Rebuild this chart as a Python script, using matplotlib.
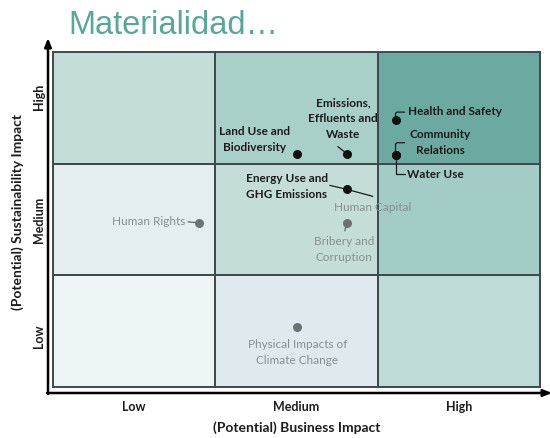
import numpy as np
import matplotlib.pyplot as plt
from matplotlib.colors import ListedColormap

plt.rcParams['font.family'] = ['Lato', 'DejaVu Sans']

levels = ["Low", "Medium", "High"]

# shade index per cell, rows = sustainability (low -> high), cols = business
shade = [[0, 1, 3],
         [2, 4, 6],
         [4, 5, 7]]
shade_colors = ['#eef5f6', '#dfeaee', '#e4eef0', '#bfdbd8',
                '#c4ddd9', '#a9cfc9', '#a3ccc6', '#6ba9a1']

# topics: business impact, sustainability impact (0-3 scale)
topics = ["Land Use and\nBiodiversity", "Emissions,\nEffluents and\nWaste",
          "Health and Safety", "Community\nRelations", "Water Use",
          "Energy Use and\nGHG Emissions", "Human Capital",
          "Bribery and\nCorruption", "Human Rights",
          "Physical Impacts of\nClimate Change"]
business = [1.50, 1.81, 2.11, 2.11, 2.11, 1.81, 1.81, 1.81, 0.90, 1.50]
sustain = [2.09, 2.09, 2.39, 2.08, 2.08, 1.77, 1.77, 1.47, 1.47, 0.54]
material = [True, True, True, True, True, True, False, False, False, False]

fig = plt.figure(figsize=(5.5, 4.38), dpi=100)
ax = fig.add_axes([53/550, 51/438, 487/550, 335/438])

ax.pcolormesh(np.arange(4), np.arange(4), np.array(shade),
              cmap=ListedColormap(shade_colors), vmin=-0.5, vmax=7.5,
              edgecolors='#3f4b4b', linewidth=1.2)
ax.set_xlim(0, 3)
ax.set_ylim(0, 3)
for s in ax.spines.values():
    s.set_color('#3f4b4b')
    s.set_linewidth(1.4)

dark = '#1c1c1c'
grey = '#87908f'

# label placement (offset pixels of text from dot), alignment
layout = [(-42, 14, 'center'), (-4, 35, 'center'), (12, 9, 'left'),
          (45, 12, 'center'), (11, -20, 'left'), (-60, 3, 'center'),
          (26, -18, 'center'), (-3, -27, 'center'), (-14, 1, 'right'),
          (1, -26, 'center')]

for i, name in enumerate(topics):
    col = dark if material[i] else grey
    dcol = '#111111' if material[i] else '#6b7272'
    if name != "Human Capital":
        ax.scatter(business[i], sustain[i], s=30, color=dcol,
                   zorder=5 if material[i] else 4)
    dx, dy, ha = layout[i]
    ax.annotate(name, (business[i], sustain[i]), xytext=(dx, dy),
                textcoords='offset pixels', ha=ha, va='center',
                fontsize=8.5, fontweight='bold' if material[i] else 'normal',
                color=col, linespacing=1.55, zorder=5)

# leader lines
def leader(i, dx, dy, style='arc3', color=dark):
    ax.annotate('', (business[i], sustain[i]), xytext=(dx, dy),
                textcoords='offset pixels',
                arrowprops=dict(arrowstyle='-', color=color, lw=0.9,
                                connectionstyle=style, shrinkA=0, shrinkB=0),
                zorder=3)

leader(1, -9, 7)
leader(2, 9, 8, 'angle,angleA=0,angleB=90,rad=2')
leader(3, 9, 12, 'angle,angleA=0,angleB=90,rad=2')
leader(4, 9, -19, 'angle,angleA=0,angleB=90,rad=0')
leader(5, -17, 4)
leader(5, 26, -7)
leader(7, -2, -8, color='#5d6666')
leader(8, -11, 1, color='#5d6666')

ax.set_xticks([0.5, 1.5, 2.5], levels)
ax.set_yticks([0.45, 1.5, 2.6], levels, rotation=90, va='center')
ax.tick_params(length=0, labelsize=9, colors=dark)
ax.tick_params(axis='x', pad=10)
ax.tick_params(axis='y', pad=6)
for t in ax.get_xticklabels() + ax.get_yticklabels():
    t.set_fontweight('bold')

fig.text(297/550, 1 - 428/438, "(Potential) Business Impact", ha='center',
         va='center', fontsize=10, fontweight='bold', color=dark)
fig.text(18/550, 1 - 212/438, "(Potential) Sustainability Impact",
         ha='center', va='center', rotation=90, fontsize=10,
         fontweight='bold', color=dark)

# axis arrows
ax.annotate('', xy=(48/550, 1 - 38/438), xytext=(48/550, 1 - 394/438),
            xycoords='figure fraction', textcoords='figure fraction',
            arrowprops=dict(arrowstyle='-|>,head_length=0.5,head_width=0.2',
                            color='black', lw=1.8, shrinkA=0, shrinkB=0),
            annotation_clip=False)
ax.annotate('', xy=(552/550, 1 - 393/438), xytext=(47/550, 1 - 393/438),
            xycoords='figure fraction', textcoords='figure fraction',
            arrowprops=dict(arrowstyle='-|>,head_length=0.5,head_width=0.2',
                            color='black', lw=1.8, shrinkA=0, shrinkB=0),
            annotation_clip=False)

fig.text(68/550, 1 - 34/438, "Materialidad…", ha='left', va='baseline',
         fontsize=23.5, color='#5ba59b', family=['Liberation Sans', 'DejaVu Sans'])

fig.savefig('out.png', dpi=100)
